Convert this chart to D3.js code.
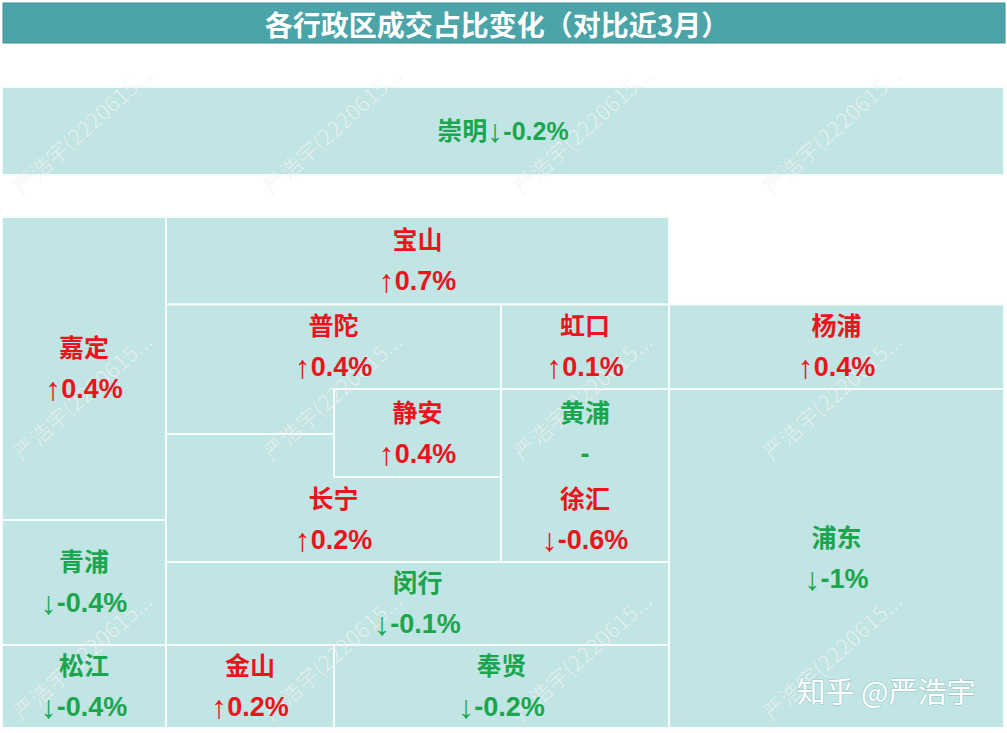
<!DOCTYPE html>
<html><head><meta charset="utf-8">
<script src="https://cdn.jsdelivr.net/npm/d3@7"></script>
<style>html,body{margin:0;padding:0;background:#fff;}svg{display:block;}</style>
</head><body><svg id="chart" width="1007" height="733"></svg>
<script>
// ---- data ----
const title = "各行政区成交占比变化（对比近3月）";
const districts = ["崇明","嘉定","宝山","长宁","普陀","虹口","杨浦","静安","黄浦","徐汇","浦东","青浦","闵行","松江","金山","奉贤"];
const changes   = [-0.2, 0.4, 0.7, 0.2, 0.4, 0.1, 0.4, 0.4, null, -0.6, -1, -0.4, -0.1, -0.4, 0.2, -0.2];
// colour as shown in the picture
const tone      = ["down","up","up","up","up","up","up","up","down","up","down","down","down","down","up","down"];
// tile map in grid units [col0, col1, row0, row1]; null = shares the previous tile
const tiles     = [[0,6,-3,-1],[0,1,0,7],[1,4,0,2],[1,3,5,8],[1,3,2,5],[3,4,2,4],[4,6,2,4],[2,3,4,6],[3,4,4,8],null,[4,6,4,12],[0,1,7,10],[1,4,8,10],[0,1,10,12],[1,2,10,12],[2,4,10,12]];
// label area in grid units
const labelArea = [[0,6,-3,-1],[0,1,0,7],[1,4,0,2],[1,3,6,8],[1,3,2,4],[3,4,2,4],[4,6,2,4],[2,3,4,6],[3,4,4,6],[3,4,6,8],[4,6,4,12],[0,1,7,10],[1,4,8,10],[0,1,10,12],[1,2,10,12],[2,4,10,12]];
const singleLine = ["崇明"];

const svg = d3.select("#chart");
const x = d3.scaleLinear().domain([0,1,2,3,4,6]).range([2,166,334,501,669,1004]);
const y = d3.scaleLinear().domain([-3,-1,0,2,4,5,6,7,8,10,12]).range([87,175,217,304.5,389,434,477,520,562,645,728]);

const RED = "#e8151c", GREEN = "#1aa64e", FILL = "#c1e4e4", HEAD = "#4aa4a8";
const arrow = v => v == null ? "" : (v > 0 ? "↑" : "↓");
const num = v => v == null ? "-" : v + "%";

// title bar
svg.append("rect").attr("x", 3).attr("y", 3).attr("width", 1002).attr("height", 40)
  .attr("fill", HEAD).attr("stroke", "#3f9297").attr("stroke-width", 1);
svg.append("text").attr("x", 497).attr("y", 24).attr("text-anchor", "middle")
  .attr("dominant-baseline", "central").attr("fill", "#fff")
  .style("font-family", "'Noto Sans CJK SC'").style("font-weight", 700).style("font-size", "28px")
  .text(title);

// tiles
const data = districts.map((d, i) => ({name: d, value: changes[i], tone: tone[i], tile: tiles[i], area: labelArea[i]}));
svg.append("g").selectAll("rect").data(data.filter(d => d.tile)).join("rect")
  .attr("x", d => x(d.tile[0])).attr("y", d => y(d.tile[2]))
  .attr("width", d => x(d.tile[1]) - x(d.tile[0])).attr("height", d => y(d.tile[3]) - y(d.tile[2]))
  .attr("fill", FILL).attr("stroke", "#f4fcfc").attr("stroke-width", 2);

// watermarks
const wm = svg.append("g").attr("pointer-events", "none");
[0, 250, 500, 750].forEach(dx => [196, 462, 722].forEach(dy => {
  wm.append("text").attr("transform", `translate(${22 + dx},${dy}) rotate(-42)`)
    .attr("fill", "#ffffff").attr("fill-opacity", 0.5).attr("stroke", "#9aa").attr("stroke-opacity", 0.14).attr("stroke-width", 0.6)
    .style("font-family", "'Noto Sans CJK SC'").style("font-size", "22px")
    .text("严浩宇(2220615...");
}));

// labels
const lbl = svg.append("g").style("font-family", "'Liberation Sans','Noto Sans CJK SC'")
  .style("font-weight", 700).style("font-size", "25px").attr("text-anchor", "middle");
data.forEach(d => {
  const cx = (x(d.area[0]) + x(d.area[1])) / 2;
  const cy = (y(d.area[2]) + y(d.area[3])) / 2;
  const col = d.tone === "up" ? RED : GREEN;
  const single = singleLine.includes(d.name);
  const n = single ? 1 : 2;
  const yy = k => cy + (k - (n - 1) / 2) * 41;
  const t1 = lbl.append("text").attr("x", cx).attr("y", yy(0)).attr("dominant-baseline", "central").attr("fill", col);
  t1.append("tspan").text(d.name);
  const t2 = single ? t1 : lbl.append("text").attr("x", cx).attr("y", yy(1)).attr("dominant-baseline", "central").attr("fill", col).style("font-size", "27px");
  if (arrow(d.value)) t2.append("tspan").style("font-size", "32px").style("font-weight", 400).text(arrow(d.value));
  t2.append("tspan").text(num(d.value));
});

// signature
svg.append("text").attr("x", 886).attr("y", 690).attr("text-anchor", "middle")
  .attr("dominant-baseline", "central").attr("fill", "#fff")
  .style("font-family", "'Noto Sans CJK SC'").style("font-size", "29px")
  .style("paint-order", "stroke").attr("stroke", "#9bc9c9").attr("stroke-width", 1.2)
  .text("知乎 @严浩宇");
</script></body></html>
